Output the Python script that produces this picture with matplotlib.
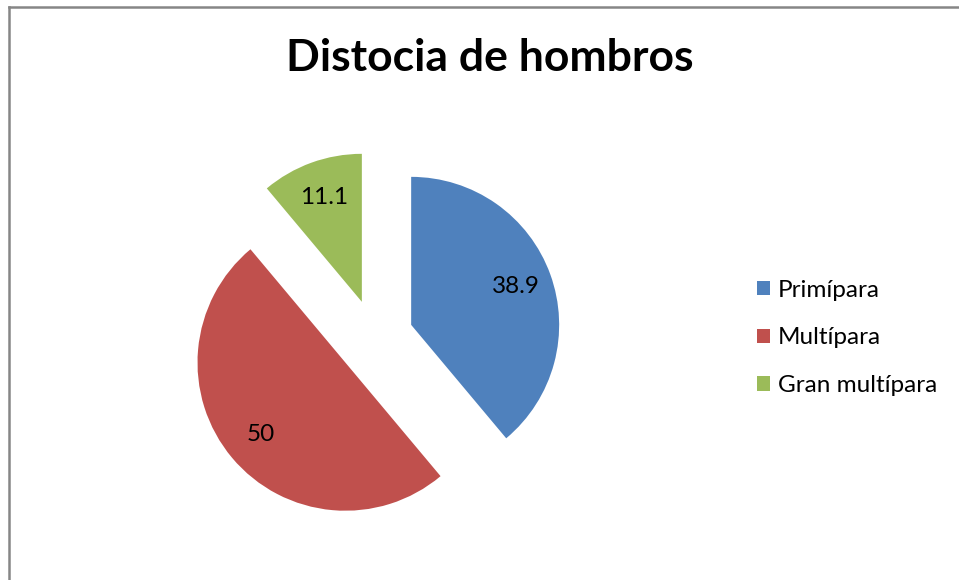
import matplotlib
matplotlib.use("Agg")
import matplotlib.pyplot as plt
from matplotlib.patches import Patch
from matplotlib.lines import Line2D

# datos
categorias = ["Primípara", "Multípara", "Gran multípara"]
valores = [38.9, 50, 11.1]
etiquetas = ["38.9", "50", "11.1"]
colores = ["#4F81BD", "#C0504D", "#9BBB59"]

plt.rcParams['font.family'] = ['Lato', 'DejaVu Sans']

W, H = 959, 580
fig = plt.figure(figsize=(W / 100, H / 100), dpi=100)

# pastel: centro (375, 338) px, radio 148 px
R = 148
cx, cy = 375, 338
ax = fig.add_axes([(cx - 1.5 * R) / W, (H - cy - 1.5 * R) / H, 3 * R / W, 3 * R / H])
it = iter(etiquetas)
ax.pie(valores, colors=colores, startangle=90, counterclock=False,
       explode=[0.26] * 3, radius=1.0,
       autopct=lambda p: next(it), pctdistance=0.75,
       textprops={'fontsize': 17.5, 'color': 'black'},
       wedgeprops={'linewidth': 0})
ax.set_xlim(-1.5, 1.5)
ax.set_ylim(-1.5, 1.5)
ax.set_aspect('auto')
ax.axis('off')

fig.text(490 / W, 1 - 58 / H, "Distocia de hombros", ha='center', va='center',
         fontsize=32, fontweight='bold')

handles = [Patch(facecolor=c, edgecolor='none') for c in colores]
fig.legend(handles, categorias, loc='center left', bbox_to_anchor=(735 / W, 1 - 338 / H),
           frameon=False, fontsize=17.5, handlelength=0.55, handleheight=0.55,
           handletextpad=0.3, labelspacing=1.1)

# marco
fig.add_artist(Line2D([9 / W, 9 / W], [0, 1 - 7 / H], color='#868686', linewidth=1.8))
fig.add_artist(Line2D([9 / W, 1], [1 - 7 / H, 1 - 7 / H], color='#868686', linewidth=1.8))

fig.savefig("out.png", dpi=100)
